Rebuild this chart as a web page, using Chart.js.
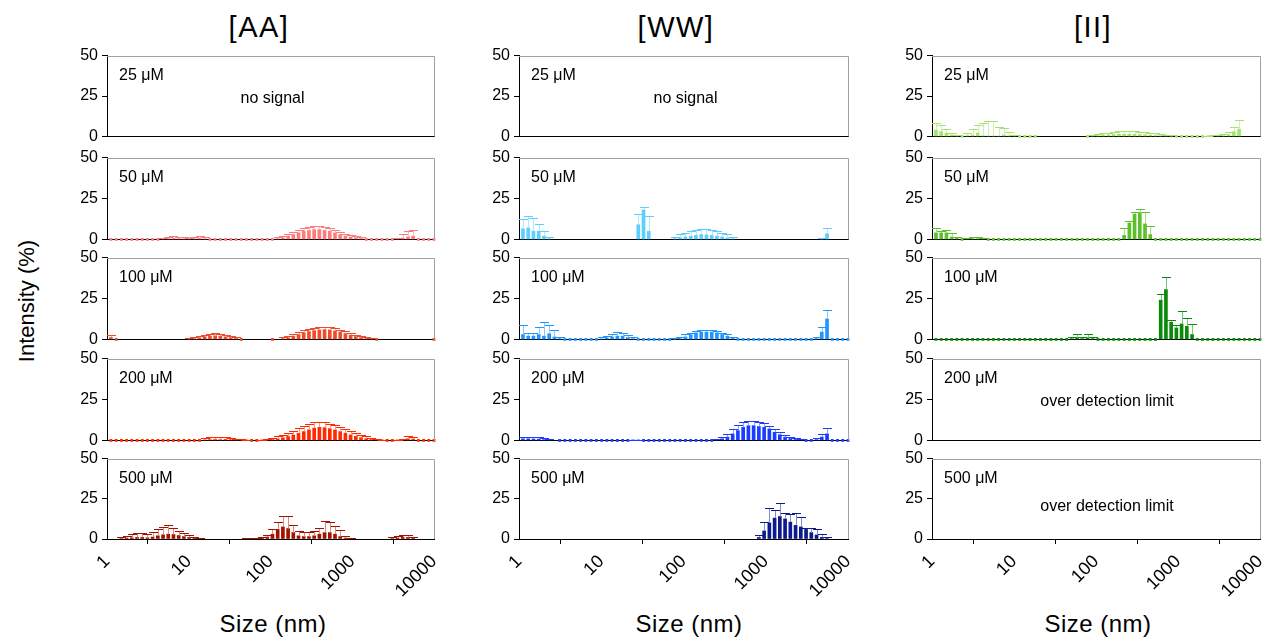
<!DOCTYPE html>
<html><head><meta charset="utf-8">
<script src="https://cdn.jsdelivr.net/npm/chart.js@4.4.1/dist/chart.umd.min.js"></script>
<style>
body{margin:0;width:1265px;height:638px;background:#fff;position:relative;overflow:hidden;font-family:'Liberation Sans',Arial,Helvetica,sans-serif;color:#000}
.t{position:absolute;white-space:nowrap;line-height:1}
canvas{position:absolute}
</style></head><body>
<div class="t" style="left:259px;top:13px;font-size:29px;letter-spacing:1.5px;transform:translateX(-50%)">[AA]</div>
<div class="t" style="left:676px;top:13px;font-size:29px;letter-spacing:1.5px;transform:translateX(-50%)">[WW]</div>
<div class="t" style="left:1093px;top:13px;font-size:29px;letter-spacing:1.5px;transform:translateX(-50%)">[II]</div>
<div class="t" style="left:27px;top:301px;font-size:22px;transform:translate(-50%,-50%) rotate(-90deg)">Intensity (%)</div>
<div class="t" style="left:273px;top:612px;font-size:24px;letter-spacing:0.5px;transform:translateX(-50%)">Size (nm)</div>
<div class="t" style="left:689px;top:612px;font-size:24px;letter-spacing:0.5px;transform:translateX(-50%)">Size (nm)</div>
<div class="t" style="left:1098px;top:612px;font-size:24px;letter-spacing:0.5px;transform:translateX(-50%)">Size (nm)</div>
<script>
const n = null;
// DLS size bins (nm)
const sizes = [1.117,1.294,1.499,1.736,2.01,2.328,2.696,3.122,3.615,4.187,4.849,5.615,6.503,7.531,8.721,10.1,11.7,13.54,15.69,18.17,21.04,24.36,28.21,32.67,37.84,43.82,50.75,58.77,68.06,78.82,91.28,105.7,122.4,141.8,164.2,190.1,220.2,255.0,295.3,342.0,396.1,458.7,531.2,615.1,712.4,825.0,955.4,1106,1281,1484,1718,1990,2305,2669,3091,3580,4145,4801,5560,6439,7456,8635,10000];
const xTicks = [1,10,100,1000,10000];
const yTicks = [0,25,50];
const concLabels = ['25 μM','50 μM','100 μM','200 μM','500 μM'];

// [AA]
const AA_50 = [0,0,0,0,0,0,0,0,0,0, 0.3,0.5,0.6,0.5,0.4,0.3,0.5,0.6,0.4, 0,0,0,0,0,0,0,0,0,0,0,0,0, 0.5,1,2,3,4,5,5.5,6,6,5.5,5,4,3,2,1.5,1,0.5, 0,0,0,0,0,0, 0.3,0.8,1.5,2, 0,0,0,0];
const AA_50_err = [0,0,0,0,0,0,0,0,0,0, 0.8,1,1.2,1,0.8,0.6,1,1.2,0.8, 0,0,0,0,0,0,0,0,0,0,0,0,0, 1,1.2,1.5,1.8,2,2,2,2,2,2,2,2,1.8,1.5,1.2,1,0.8, 0,0,0,0,0,0, 0.8,2.2,3.5,4, 0,0,0,0];
const AA_100 = [1.2,0, n,n,n,n,n,n,n,n,n,n,n,n,n, 0.2,0.5,1,1.5,2,2.2,2,1.6,1.1,0.6,0, n,n,n,n,n, 0, n, 0.5,1,2,3,4,4.8,5.4,5.8,6,5.8,5.2,4.5,3.6,2.6,1.8,1.1,0.6,0.3,0, n,n,n,n,n,n,n,n,n,n, 0];
const AA_100_err = [1.4,0, 0,0,0,0,0,0,0,0,0,0,0,0,0, 0.8,1,1.2,1.4,1.5,1.5,1.5,1.3,1,0.8,0, 0,0,0,0,0, 0, 0, 0.8,1,1.2,1.3,1.5,1.5,1.5,1.5,1.5,1.5,1.5,1.4,1.3,1.2,1.1,1,0.8,0.6,0, 0,0,0,0,0,0,0,0,0,0, 0];
const AA_200 = [0,0,0,0,0,0,0,0,0,0,0,0,0,0,0,0,0,0, 0.3,0.5,0.6,0.5,0.6,0.5,0.3, 0.2,0.1, 0,0, 0.1, 0.3,0.6,1,1.6,2.4,3.3,4.3,5.4,6.5,7.5,8,7.8,7.2,6.4,5.4,4.4,3.4,2.5,1.7,1.1,0.6,0.3,0.1, 0,0, 0.1,0.3, 1,0.8, 0,0,0,0];
const AA_200_err = [0,0,0,0,0,0,0,0,0,0,0,0,0,0,0,0,0,0, 1.2,1.5,1.5,1.5,1.5,1.2,0.8, 0.5,0.3, 0,0, 0.3, 0.6,1,1.4,1.8,2.2,2.6,3,3.2,3.4,3.5,3.4,3.2,3,2.8,2.6,2.4,2.2,2,1.6,1.3,1,0.7,0.4, 0,0, 0.3,0.8, 1.8,1.2, 0,0,0,0];
const AA_500 = [n,n, 0.3,0.5,0.8,1,1,0.8,1.2,2,2.6,3,2.8,2.2,1.5,1,0.5,0.2, n,n,n,n,n,n,n,n, 0.2,0.2,0.3,0.5,1.2, 3,6,7.5,6.5,4,2,1.5,1.5,2,3,4,4,3,1.5,0.6,0.2, n,n,n,n,n,n,n, 0.3,0.6,1,1,0.5, n,n,n,n];
const AA_500_err = [0,0, 1,1.5,2,2.5,2.5,2,3,4.5,5,5.5,4,3,2.5,1.5,1,0.5, 0,0,0,0,0,0,0,0, 0.3,0.4,0.5,0.8,1.5, 3,4.8,6.5,7.5,4.5,3,3,3,3,4,7,6.5,5,4,1.5,0.5, 0,0,0,0,0,0,0, 0.8,1.5,1.5,1.3,0.8, 0,0,0,0];

// [WW]
const WW_50 = [6.5,7,5,5,2,0.5, n,n,n,n,n,n,n,n,n,n,n,n,n,n,n, n, 9,18,5, n,n,n,n, 0.5,1,1.5,2,2.5,3,2.8,2.5,2,1.5,1,0.5, n,n,n,n,n,n,n,n,n,n,n,n,n,n,n,n, 0.3,3.5, n,n,n,n];
const WW_50_err = [6,7,8,4.7,3,1, 0,0,0,0,0,0,0,0,0,0,0,0,0,0,0, 0, 6.5,2,9, 0,0,0,0, 1,2,2.5,3,3.5,3.5,3.5,3.5,3,2.5,2,1, 0,0,0,0,0,0,0,0,0,0,0,0,0,0,0,0, 0.7,3.2, 0,0,0,0];
const WW_100 = [3,2,2,3,2,3.5,1.5,0.5, 0,0,0,0,0,0, 0, 0.3,0.8,1.5,2,2,1.2,0.5, 0,0,0,0,0,0,0, 0.2, 0.5,1.5,3,4,4.5,4.5,4.5,4,3,2,0.8, 0,0,0,0,0,0,0,0,0,0,0,0,0,0,0, 0.5,4.5,12.5, 0,0,0,0];
const WW_100_err = [5.8,2,2,4.5,8.5,5.5,4,1, 0,0,0,0,0,0, 0, 1,1.5,2,2.3,2,1.5,1, 0,0,0,0,0,0,0, 0.5, 1,1.5,1.2,1,1,1,1,1,1,1,0.8, 0,0,0,0,0,0,0,0,0,0,0,0,0,0,0, 1,3,5.7, 0,0,0,0];
const WW_200 = [1,1,0.8,0.8,0.5,0.3, n, 0,0,0,0,0,0,0,0,0,0,0,0,0,0, 0.1,0.1, 0,0,0,0,0,0,0,0,0,0,0,0,0,0, 0.3,1,2,4,6,8,9,9,8.5,8,7,5,3.5,2,1.2,0.6,0.3, 0,0, 0.5,2,4, 0,0,0,0];
const WW_200_err = [1,1.2,1,1,0.8,0.5, 0, 0,0,0,0,0,0,0,0,0,0,0,0,0,0, 0.3,0.3, 0,0,0,0,0,0,0,0,0,0,0,0,0,0, 0.5,1,2,3,3.5,3.5,3,3,3,2.5,2,2,1.5,1.5,1,0.8,0.5, 0,0, 1,2,3.3, 0,0,0,0];
const WW_500 = [n,n,n,n,n,n,n,n,n,n,n,n,n,n,n,n,n,n,n,n,n,n,n,n,n,n,n,n,n,n,n,n,n,n,n,n,n,n,n,n,n,n,n,n,n, 1,5,10,13,14,12.5,10.5,8.5,7.5,6,4,2.5,1,0.3, n,n,n,n];
const WW_500_err = [0,0,0,0,0,0,0,0,0,0,0,0,0,0,0,0,0,0,0,0,0,0,0,0,0,0,0,0,0,0,0,0,0,0,0,0,0,0,0,0,0,0,0,0,0, 1.3,5.6,9.5,5,8.4,3.5,5,7.8,5.9,1,3,4,2,0.7, 0,0,0,0];

// [II]
const II_25 = [4,3,2,1,0.3,0,0.5,1,2,0.5,0.3,0.3,0.3,1,0.5,0.3, 0,0,0,0, n,n,n,n,n,n,n,n,n, 0, 0.3,0.5,0.8,1,1.2,1.3,1.4,1.4,1.3,1.2,1,0.8,0.6,0.5,0.3,0.2, 0,0,0,0,0,0, 0.2,0.3,0.3,0.5, 1,3,4.5, n,n,n,n];
const II_25_err = [4.6,3.8,2.5,1,0.5,0,1.5,3.7,5,8,9.4,9.2,5.7,4.5,2.5,0.7, 0,0,0,0, 0,0,0,0,0,0,0,0,0, 0, 0.8,1,1.2,1.4,1.6,1.8,2,2,2,1.8,1.6,1.4,1.2,1,0.8,0.5, 0,0,0,0,0,0, 0.3,0.4,0.5,0.8, 1.5,3,5.8, 0,0,0,0];
const II_50 = [4,4,4,1.5,1,0,0.3,0.5,0.5,0.3, 0,0,0,0,0,0,0,0,0,0,0,0,0,0,0,0,0,0,0,0,0,0,0,0,0,0, 2.5,10,15.5,16,9.5,3, 0,0,0,0,0,0,0,0,0,0,0,0,0,0,0,0,0,0,0,0,0];
const II_50_err = [2.7,1,1.5,2.7,0.5,0,0.7,1,1,0.3, 0,0,0,0,0,0,0,0,0,0,0,0,0,0,0,0,0,0,0,0,0,0,0,0,0,0, 4.2,1,1.5,2.6,7.1,5, 0,0,0,0,0,0,0,0,0,0,0,0,0,0,0,0,0,0,0,0,0];
const II_100 = [0,0,0,0,0,0,0,0,0,0,0,0,0,0,0,0,0,0,0,0,0,0,0,0,0,0, 0.5,1,0.5,1,0.5, 0,0,0,0,0,0,0,0,0,0,0,0, 24,30.5,10.5,7,9.5,8,3, 0,0,0,0,0,0,0,0,0,0,0,0,0];
const II_100_err = [0,0,0,0,0,0,0,0,0,0,0,0,0,0,0,0,0,0,0,0,0,0,0,0,0,0, 1,2,1,2,1, 0,0,0,0,0,0,0,0,0,0,0,0, 3.5,7.5,1.5,2,8,5,6.7, 0,0,0,0,0,0,0,0,0,0,0,0,0];

const panels = [
  {col:0,row:0,note:'no signal',noteDx:2,noteDy:0},
  {col:0,row:1,v:AA_50,e:AA_50_err,c:'#ff7b7b',l:'#ffbcbc'},
  {col:0,row:2,v:AA_100,e:AA_100_err,c:'#ee4b2b',l:'#f7a592'},
  {col:0,row:3,v:AA_200,e:AA_200_err,c:'#ff2a00',l:'#ff9a80'},
  {col:0,row:4,v:AA_500,e:AA_500_err,c:'#a31200',l:'#e08a80'},
  {col:1,row:0,note:'no signal',noteDx:2,noteDy:0},
  {col:1,row:1,v:WW_50,e:WW_50_err,c:'#5ccfff',l:'#b0e6ff'},
  {col:1,row:2,v:WW_100,e:WW_100_err,c:'#1f96ff',l:'#8fc8ff'},
  {col:1,row:3,v:WW_200,e:WW_200_err,c:'#1a3dff',l:'#8c9dff'},
  {col:1,row:4,v:WW_500,e:WW_500_err,c:'#0b1a8c',l:'#8590c8'},
  {col:2,row:0,v:II_25,e:II_25_err,c:'#a6e36a',l:'#d0f0b0'},
  {col:2,row:1,v:II_50,e:II_50_err,c:'#5cc02a',l:'#a8dd90'},
  {col:2,row:2,v:II_100,e:II_100_err,c:'#0a8a0a',l:'#80c080'},
  {col:2,row:3,note:'over detection limit',noteDx:11,noteDy:0},
  {col:2,row:4,note:'over detection limit',noteDx:11,noteDy:5}
];

const colL = [107,519,932], colR = [434,848,1260];
const rowT = [54,156,256,357,457], rowB = [135,238,338,439,539];
const FONT = "'Liberation Sans', Arial, Helvetica, sans-serif";
Chart.defaults.font.family = FONT;
Chart.defaults.color = '#000';

const deco = {
  id:'deco',
  afterDatasetsDraw(chart, args, o){
    const ctx = chart.ctx;
    const ys = chart.scales.y;
    ctx.save();
    if (o.v) {
      const meta = chart.getDatasetMeta(0);
      o.v.forEach((val, i) => {
        const er = o.e[i];
        if (val == null || !(er > 0)) return;
        const el = meta.data[i];
        const x = Math.round(el.x) + 0.5;
        const y0 = ys.getPixelForValue(val), y1 = Math.round(ys.getPixelForValue(val + er)) + 0.5;
        ctx.lineWidth = 1;
        ctx.strokeStyle = o.l;
        ctx.beginPath(); ctx.moveTo(x, y0); ctx.lineTo(x, y1); ctx.stroke();
        ctx.strokeStyle = o.c;
        ctx.beginPath(); ctx.moveTo(x - 4.5, y1); ctx.lineTo(x + 4.5, y1); ctx.stroke();
      });
    }
    ctx.restore();
  },
  afterDraw(chart, args, o){
    const ctx = chart.ctx, a = chart.chartArea;
    ctx.save();
    ctx.strokeStyle = '#a0a0a0'; ctx.lineWidth = 1;
    ctx.beginPath();
    ctx.moveTo(a.left, Math.round(a.top) + 0.5);
    ctx.lineTo(Math.round(a.right) + 0.5, Math.round(a.top) + 0.5);
    ctx.lineTo(Math.round(a.right) + 0.5, a.bottom);
    ctx.stroke();
    ctx.fillStyle = '#000';
    ctx.font = '16px ' + FONT;
    ctx.textAlign = 'left'; ctx.textBaseline = 'alphabetic';
    ctx.fillText(o.label, a.left + 12, a.top + 24);
    if (o.note) {
      ctx.textAlign = 'center';
      ctx.fillText(o.note, (a.left + a.right) / 2 + o.noteDx, a.top + 47 + o.noteDy);
    }
    ctx.restore();
  }
};

panels.forEach(p => {
  const bottom = p.row === 4;
  const pl = colL[p.col], pr = colR[p.col], pt = rowT[p.row], pb = rowB[p.row];
  const cv = document.createElement('canvas');
  const W = (pr - pl) + 55 + 24, H = (pb - pt) + 12 + (bottom ? 67 : 15);
  cv.width = W; cv.height = H;
  cv.style.left = (pl - 55) + 'px'; cv.style.top = (pt - 12) + 'px';
  cv.style.width = W + 'px'; cv.style.height = H + 'px';
  document.body.appendChild(cv);
  const datasets = [];
  if (p.v) {
    datasets.push({
      type:'bar',
      data: sizes.map((s, i) => ({x: s, y: p.v[i] > 0 ? p.v[i] : null})),
      backgroundColor: p.c, borderWidth: 0, barThickness: 3, clip: false
    });
    datasets.push({
      type:'line',
      data: sizes.map((s, i) => ({x: s, y: p.v[i] === 0 ? 0 : null})),
      showLine: false, pointStyle: 'rect', pointRadius: 2, pointBorderWidth: 0,
      pointBackgroundColor: p.c, pointBorderColor: p.c, clip: false
    });
  }
  new Chart(cv, {
    type: 'bar',
    data: {datasets},
    options: {
      responsive: false, animation: false, devicePixelRatio: 1, events: [],
      layout: {padding: {left: 0, top: 12, right: 24, bottom: 0}},
      plugins: {legend: {display: false}, tooltip: {enabled: false},
        deco: {label: concLabels[p.row], note: p.note, noteDx: p.noteDx, noteDy: p.noteDy, v: p.v, e: p.e, c: p.c, l: p.l}},
      scales: {
        x: {
          type: 'logarithmic', min: 1, max: 10000, offset: false,
          afterBuildTicks: s => { s.ticks = xTicks.map(v => ({value: v})); },
          afterFit: s => { s.height = bottom ? 67 : 10; },
          border: {display: true, color: '#000', width: 1},
          grid: {display: bottom, drawOnChartArea: false, drawTicks: bottom, tickLength: 5, color: '#000'},
          ticks: {display: bottom, autoSkip: false, minRotation: 45, maxRotation: 45, padding: 7,
            font: {size: 18, family: FONT}, color: '#000', callback: v => String(v)}
        },
        y: {
          min: 0, max: 50,
          afterBuildTicks: s => { s.ticks = yTicks.map(v => ({value: v})); },
          afterFit: s => { s.width = 55; },
          border: {display: true, color: '#000', width: 1},
          grid: {display: true, drawOnChartArea: false, drawTicks: true, tickLength: 5, color: '#000'},
          ticks: {padding: 4, font: {size: 16, family: FONT}, color: '#000'}
        }
      }
    },
    plugins: [deco]
  });
});
</script>
</body></html>
